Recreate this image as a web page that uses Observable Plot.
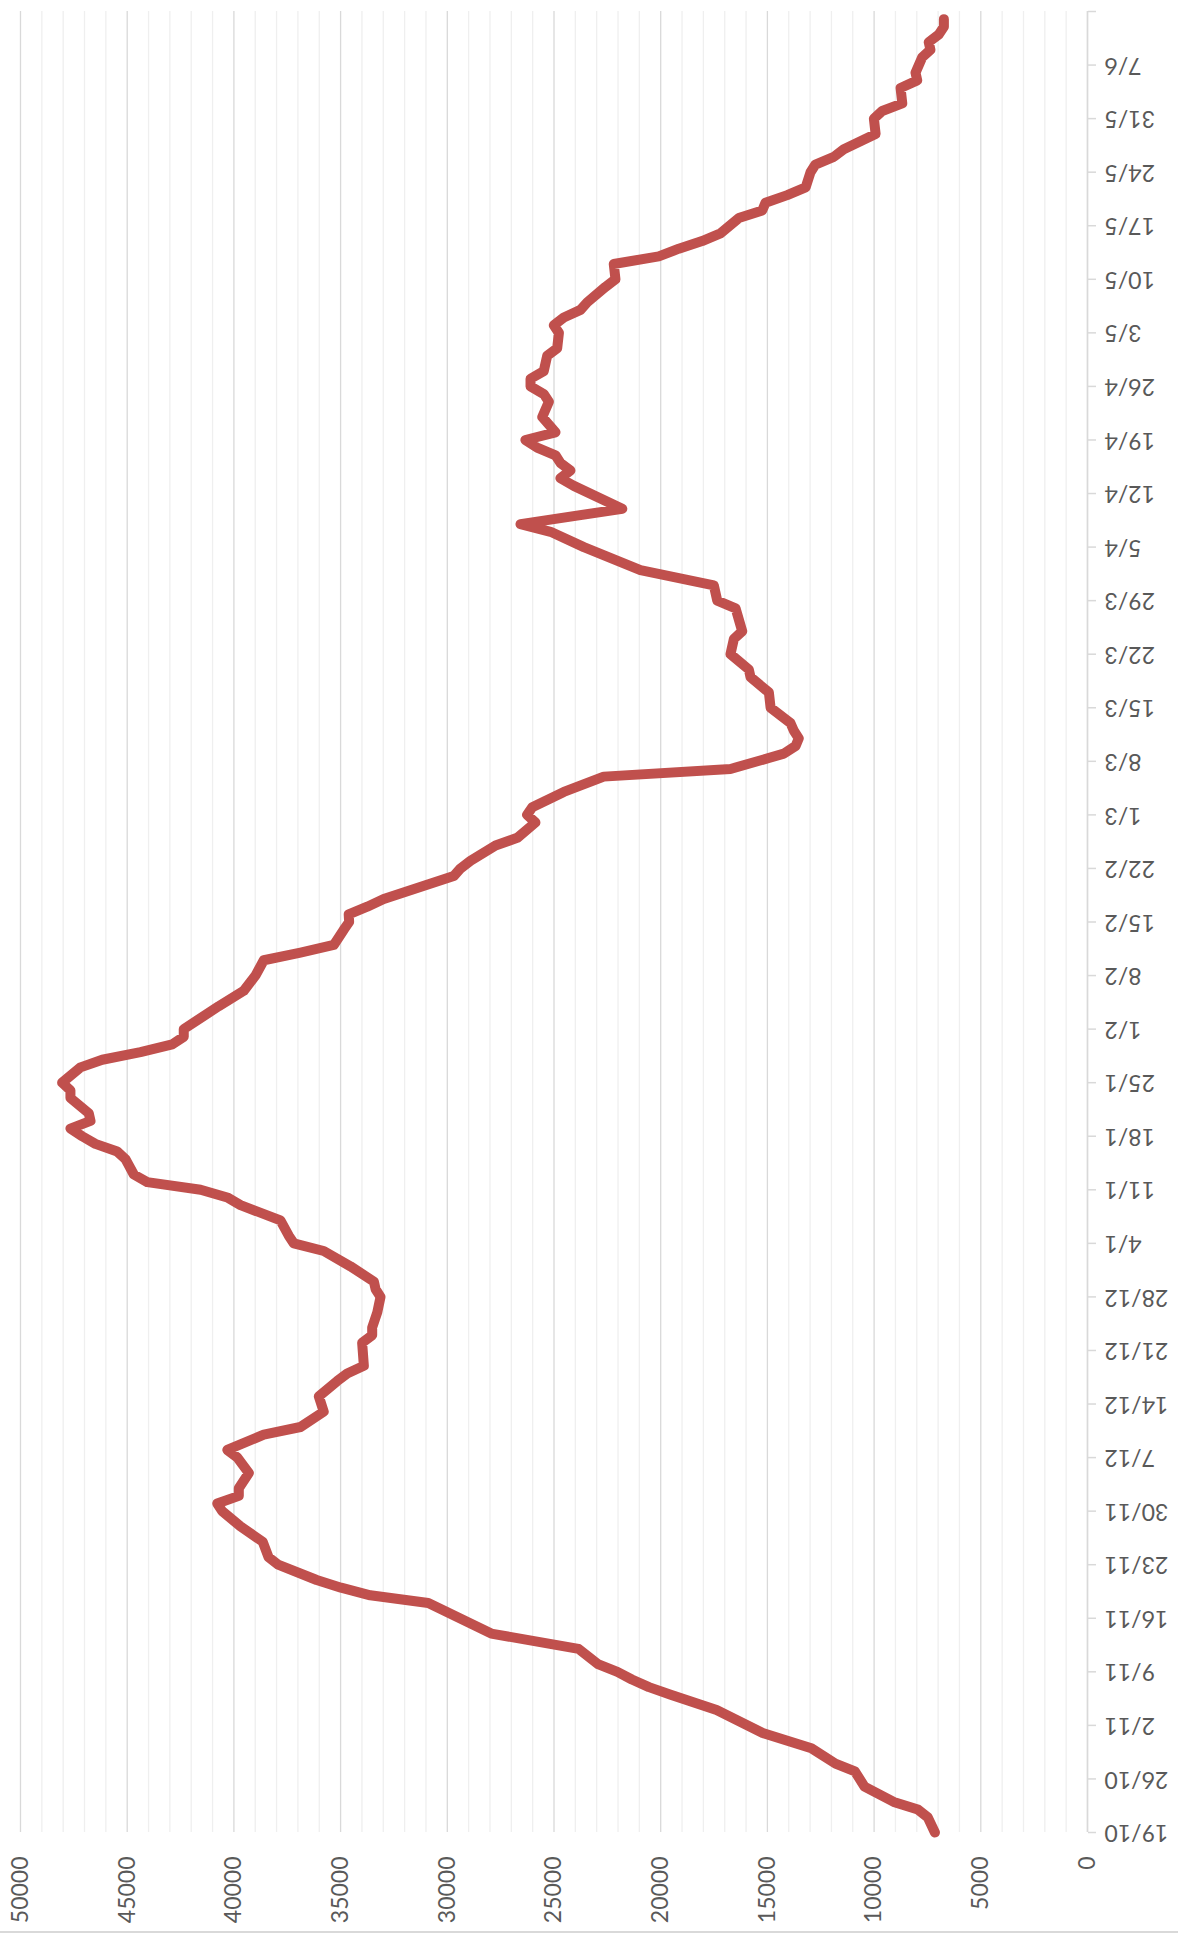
<!DOCTYPE html>
<html>
<head>
<meta charset="utf-8">
<script src="https://cdn.jsdelivr.net/npm/d3@7"></script>
<script src="https://cdn.jsdelivr.net/npm/@observablehq/plot@0.6"></script>
<style>
html, body { margin: 0; padding: 0; background: #fff; }
#wrap { position: relative; width: 1178px; height: 1939px; overflow: hidden; }
#border { position: absolute; left: 0; top: 1931px; width: 1178px; height: 2px; background: #d9d9d9; }
</style>
</head>
<body>
<div id="wrap"><div id="border"></div></div>
<script>
// ---- data ----
const startDate = "2020-10-19";
const endDate = "2021-06-14";

// days after 19/10/2020
const dayOffsets = [
  0, 2, 3, 4, 6, 8, 9, 11, 13, 16, 18, 19, 20, 21, 22, 24, 26, 30, 31, 32, 33, 35, 36, 38,
  40, 42, 43, 44, 45, 47, 49, 50, 52, 53, 55, 57, 59, 60, 61, 64, 65, 66, 68, 70, 71, 72,
  74, 76, 77, 78, 80, 82, 83, 84, 85, 86, 88, 89, 90, 91, 92, 93, 94, 96, 97, 98, 100, 101,
  102, 103, 104, 105, 108, 110, 112, 114, 115, 116, 118, 119, 120, 121, 122, 125, 126, 127,
  129, 130, 132, 133, 134, 136, 138, 139, 141, 142, 143, 144, 145, 147, 149, 151, 152, 154,
  156, 157, 160, 161, 163, 165, 168, 170, 171, 173, 176, 177, 178, 179, 180, 181, 182, 183,
  185, 187, 188, 189, 190, 191, 193, 194, 196, 197, 198, 199, 200, 202, 203, 205, 206, 207,
  208, 209, 211, 212, 213, 214, 215, 217, 218, 219, 220, 222, 224, 225, 226, 228, 229, 230,
  232, 233, 234, 235, 236, 237
];
const cases = [
  7150, 7490, 7950, 9080, 10450, 10900, 11810, 12940, 15220, 17380, 19530, 20550, 21350, 22030, 22940, 23850, 27940, 30890, 33610, 34980, 36120, 37930, 38380, 38650,
  39690, 40550, 40780, 39770, 39770, 39300, 39840, 40310, 38600, 36880, 35790, 36020, 35160, 34690, 33910, 33990, 33520, 33520, 33280, 33130, 33360, 33440,
  34540, 35790, 37190, 37430, 37820, 39690, 40310, 41560, 44060, 44690, 45080, 45470, 46490, 47110, 47660, 46720, 46800, 47660, 47660, 48050, 47190, 46170,
  44380, 42890, 42350, 42350, 40710, 39540, 38990, 38600, 36880, 35320, 34850, 34600, 34620, 33750, 32980, 29700, 29380, 28910,
  27740, 26720, 25870, 26260, 26020, 24540, 22670, 16730, 14230, 13680, 13530, 13760, 13920, 14850, 14930, 15790, 15870, 16730,
  16570, 16180, 16490, 17350, 17510, 20950, 23600, 25160, 26570, 21800, 24070, 24700, 24230, 24700, 24930, 25790, 26340, 24930,
  25550, 25240, 25480, 26100, 26100, 25480, 25320, 24850, 24770, 25010, 24540, 23760, 23440, 22590, 22120, 22200, 20090, 19150,
  18060, 17200, 16340, 15240, 15090, 14070, 13210, 12980, 12750, 11890, 11420, 9930, 10010, 9620, 8680, 8760, 7980, 8060,
  7750, 7360, 7440, 6970, 6730, 6730
];

const weekLabels = [
  "19/10", "26/10", "2/11", "9/11", "16/11", "23/11", "30/11", "7/12", "14/12", "21/12", "28/12",
  "4/1", "11/1", "18/1", "25/1", "1/2", "8/2", "15/2", "22/2", "1/3", "8/3", "15/3", "22/3", "29/3",
  "5/4", "12/4", "19/4", "26/4", "3/5", "10/5", "17/5", "24/5", "31/5", "7/6", ""
];
const valueTicks = [0, 5000, 10000, 15000, 20000, 25000, 30000, 35000, 40000, 45000, 50000];

// ---- build ----
const start = new Date(startDate + "T00:00:00Z");
const end = new Date(endDate + "T00:00:00Z");
const series = dayOffsets.map((d, i) => ({ date: d3.utcDay.offset(start, d), value: cases[i] }));
const weekDates = weekLabels.map((_, i) => d3.utcDay.offset(start, 7 * i));
const labelMap = new Map(weekDates.map((d, i) => [+d, weekLabels[i]]));
const minorGrid = d3.range(1000, 50000, 1000).filter(v => v % 5000 !== 0);

const textColor = "#595959";
const plot = Plot.plot({
  width: 1178,
  height: 1939,
  marginLeft: 20,
  marginRight: 91,
  marginTop: 11,
  marginBottom: 107,
  style: { fontFamily: "Lato, 'Open Sans', sans-serif", background: "white", overflow: "visible" },
  x: { domain: [0, 50000], reverse: true, label: null },
  y: { type: "utc", domain: [start, end], label: null },
  marks: [
    Plot.ruleX(minorGrid, { stroke: "#efefef", strokeWidth: 1.3 }),
    Plot.ruleX(valueTicks, { stroke: "#d9d9d9", strokeWidth: 1.3 }),
    Plot.ruleX([0], { stroke: "#d9d9d9", strokeWidth: 1.5 }),
    Plot.axisX({
      anchor: "bottom", ticks: valueTicks, tickSize: 0, tickPadding: 24, tickRotate: -90,
      textAnchor: "end", lineAnchor: "middle", fontSize: 23, fill: textColor, stroke: "none",
      label: null, tickFormat: d => String(d)
    }),
    Plot.axisY({
      anchor: "right", ticks: weekDates, tickSize: 8, tickPadding: 9, tickRotate: 180,
      textAnchor: "end", lineAnchor: "middle", fontSize: 23, fill: textColor,
      stroke: "#d9d9d9", strokeWidth: 1.5, label: null,
      tickFormat: d => labelMap.get(+d) ?? ""
    }),
    Plot.line(series, {
      x: "value", y: "date", stroke: "#C0504D", strokeWidth: 10,
      strokeLinejoin: "round", strokeLinecap: "round"
    })
  ]
});
document.getElementById("wrap").prepend(plot);
</script>
</body>
</html>
